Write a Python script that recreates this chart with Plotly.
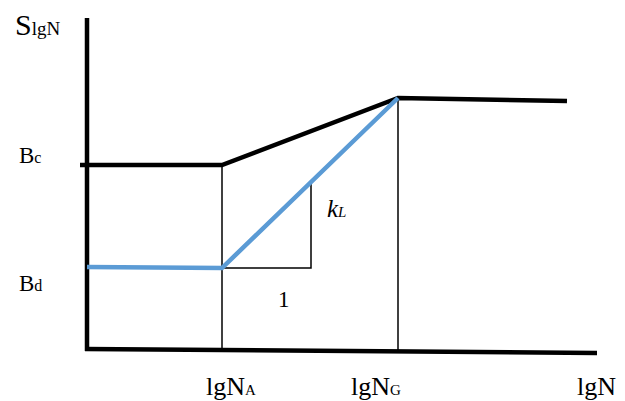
import plotly.graph_objects as go

# Schematic of the S-N curve in log coordinates (units: arbitrary)
lgN_A = 13.5          # knee point A
lgN_G = 31.1          # knee point G
lgN_end = 48.0        # end of plateau
x_axis_end = 51.0
y_axis_top = 33.2

B_c = 18.5            # upper plateau level
B_d = 8.2             # lower plateau level
S_G = 25.2            # level at lgN_G

# black (upper) curve
black_x = [-0.7, lgN_A, lgN_G, lgN_end]
black_y = [B_c, B_c, S_G, 24.9]

# blue (lower) curve
blue_x = [0.0, lgN_A, lgN_G]
blue_y = [8.3, B_d, S_G]

# slope triangle: unit run and rise k_L
tri_run = 8.9
slope = (S_G - B_d) / (lgN_G - lgN_A)
tri_x = [lgN_A, lgN_A + tri_run, lgN_A + tri_run]
tri_y = [B_d, B_d, B_d + tri_run * slope]

FONT = "Liberation Serif"

fig = go.Figure()

def line(xs, ys, color, width):
    fig.add_trace(go.Scatter(x=xs, y=ys, mode="lines",
                             line=dict(color=color, width=width),
                             hoverinfo="skip", showlegend=False))

# axes
line([0.0, 0.0], [-0.1, y_axis_top], "black", 4.5)
line([-0.2, x_axis_end], [0.1, -0.3], "black", 4.5)

# drop lines at the knee points
line([lgN_A, lgN_A], [B_c, -0.1], "black", 1.5)
line([lgN_G, lgN_G], [S_G, -0.2], "black", 1.5)

# slope triangle
line(tri_x, tri_y, "black", 1.5)

# curves
line(black_x, black_y, "black", 4.5)
line(blue_x, blue_y, "#5B9BD5", 4.5)

def label(x, y, text, size=26):
    fig.add_annotation(x=x, y=y, xref="x", yref="y", text=text,
                       showarrow=False, xanchor="center", yanchor="middle",
                       font=dict(family=FONT, size=size, color="black"))

label(-5.0, 32.6, "S<span style='font-size:19px'>lgN</span>", 30)
label(-5.7, 19.5, "B<span style='font-size:16px'>c</span>", 23)
label(-5.7, 6.7, "B<span style='font-size:16px'>d</span>", 23)
label(14.35, -3.6, "lgN<span style='font-size:15px'>A</span>", 26)
label(28.85, -3.6, "lgN<span style='font-size:15px'>G</span>", 26)
label(50.95, -3.6, "lgN", 26)
label(24.95, 14.2, "<i>k<span style='font-size:15px'>L</span></i>", 25)
label(19.65, 5.1, "1", 23)

fig.update_layout(
    width=625, height=401,
    margin=dict(l=0, r=0, t=0, b=0),
    paper_bgcolor="white", plot_bgcolor="white",
    xaxis=dict(range=[-8.7, 53.8], visible=False, fixedrange=True),
    yaxis=dict(range=[-5.1, 35.0], visible=False, fixedrange=True),
)

fig.write_html("out.html")
